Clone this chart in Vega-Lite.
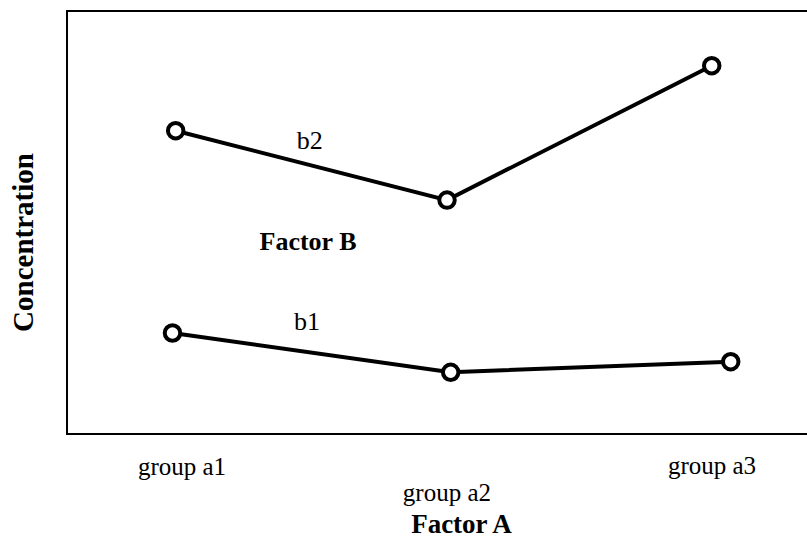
{
  "$schema": "https://vega.github.io/schema/vega-lite/v6.json",
  "autosize": "none",
  "padding": {"left": 67, "top": 11, "right": 0, "bottom": 103},
  "width": 745,
  "height": 423,
  "background": "white",
  "config": {
    "view": {"stroke": "black", "strokeWidth": 2},
    "font": "Liberation Serif"
  },
  "datasets": {
    "series": [
      {"factorB": "b2", "group": "group a1", "pos": 14.59, "conc": 71.7},
      {"factorB": "b2", "group": "group a2", "pos": 51.01, "conc": 55.3},
      {"factorB": "b2", "group": "group a3", "pos": 86.54, "conc": 87.07},
      {"factorB": "b1", "group": "group a1", "pos": 14.16, "conc": 23.88},
      {"factorB": "b1", "group": "group a2", "pos": 51.5, "conc": 14.59},
      {"factorB": "b1", "group": "group a3", "pos": 89.09, "conc": 17.09}
    ],
    "labels": [
      {"text": "b2", "pos": 32.6, "conc": 69.3},
      {"text": "b1", "pos": 32.2, "conc": 26.5}
    ],
    "legendTitle": [
      {"text": "Factor B", "pos": 32.35, "conc": 45.4}
    ],
    "groups": [
      {"text": "group a1", "pos": 15.44, "conc": -7.8},
      {"text": "group a2", "pos": 51.0, "conc": -14.0},
      {"text": "group a3", "pos": 86.58, "conc": -7.6}
    ]
  },
  "layer": [
    {
      "data": {"name": "series"},
      "mark": {"type": "line", "color": "black", "strokeWidth": 4},
      "encoding": {
        "x": {
          "field": "pos", "type": "quantitative",
          "scale": {"domain": [0, 100], "nice": false, "zero": false},
          "axis": {
            "title": "Factor A", "labels": false, "ticks": false, "domain": false, "grid": false,
            "titleFont": "Liberation Serif", "titleFontSize": 27, "titleFontWeight": "bold", "titleColor": "black",
            "titleX": 394, "titleY": 90, "titleBaseline": "middle", "titleAlign": "center"
          }
        },
        "y": {
          "field": "conc", "type": "quantitative",
          "scale": {"domain": [0, 100], "nice": false, "zero": false},
          "axis": {
            "title": "Concentration", "labels": false, "ticks": false, "domain": false, "grid": false,
            "titleFont": "Liberation Serif", "titleFontSize": 29, "titleFontWeight": "bold", "titleColor": "black",
            "titleX": -44, "titleY": 231, "titleAngle": -90, "titleBaseline": "middle", "titleAlign": "center"
          }
        },
        "detail": {"field": "factorB"}
      }
    },
    {
      "data": {"name": "series"},
      "mark": {"type": "point", "shape": "circle", "filled": true, "fill": "white", "stroke": "black", "strokeWidth": 4, "size": 240, "opacity": 1},
      "encoding": {
        "x": {"field": "pos", "type": "quantitative"},
        "y": {"field": "conc", "type": "quantitative"}
      }
    },
    {
      "data": {"name": "labels"},
      "mark": {"type": "text", "fontSize": 26, "color": "black", "baseline": "middle", "align": "center"},
      "encoding": {
        "x": {"field": "pos", "type": "quantitative"},
        "y": {"field": "conc", "type": "quantitative"},
        "text": {"field": "text"}
      }
    },
    {
      "data": {"name": "legendTitle"},
      "mark": {"type": "text", "fontSize": 26, "fontWeight": "bold", "color": "black", "baseline": "middle", "align": "center"},
      "encoding": {
        "x": {"field": "pos", "type": "quantitative"},
        "y": {"field": "conc", "type": "quantitative"},
        "text": {"field": "text"}
      }
    },
    {
      "data": {"name": "groups"},
      "mark": {"type": "text", "fontSize": 25, "color": "black", "baseline": "middle", "align": "center", "clip": false},
      "encoding": {
        "x": {"field": "pos", "type": "quantitative"},
        "y": {"field": "conc", "type": "quantitative"},
        "text": {"field": "text"}
      }
    }
  ]
}
